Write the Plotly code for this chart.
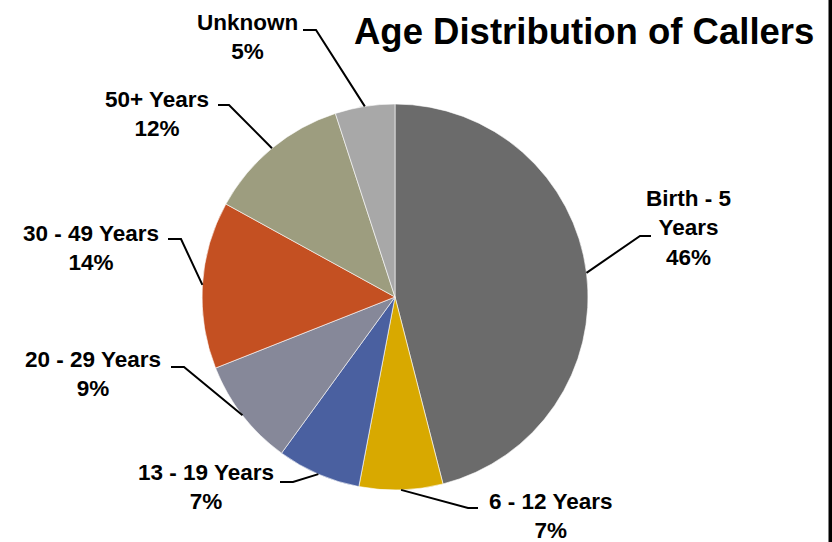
import math
import plotly.graph_objects as go

# ---- data ----
categories = ["Birth - 5 Years", "6 - 12 Years", "13 - 19 Years", "20 - 29 Years",
              "30 - 49 Years", "50+ Years", "Unknown"]
label_text = ["Birth - 5<br>Years", "6 - 12 Years", "13 - 19 Years", "20 - 29 Years",
              "30 - 49 Years", "50+ Years", "Unknown"]
values = [46, 7, 7, 9, 14, 12, 5]
colors = ["#6b6b6b", "#d8a900", "#4a60a0", "#868899", "#c45022", "#9d9d7f", "#a8a8a8"]
title = "Age Distribution of Callers"

W, H = 832, 542
# pie placement (page pixels)
CX, CY, R = 395, 297, 193

def px(x):
    return x / W

def py(y):
    return 1 - y / H

# label layout (page pixel centres, text-end point, elbow point)
label_pos = [(688, 228), (550, 516), (206, 487), (93, 374), (91, 248), (157, 114), (247, 37)]
line_start = [(651, 236), (478, 508), (280, 482), (171, 367), (168, 239), (218, 105), (303, 30)]
line_elbow = [(640, 236), (468, 508), (293, 482), (184, 367), (181, 239), (229, 105), (316, 30)]

fig = go.Figure()
fig.add_trace(go.Pie(
    labels=categories, values=values, sort=False, direction="clockwise", rotation=0,
    marker=dict(colors=colors, line=dict(color="rgba(255,255,255,0.6)", width=1)),
    textinfo="none", hoverinfo="label+percent", showlegend=False,
    domain=dict(x=[px(CX - R), px(CX + R)], y=[py(CY + R), py(CY - R)]),
))

total = sum(values)
cum = 0
shapes = []
annotations = []
for i, v in enumerate(values):
    mid = (cum + v / 2) / total * 2 * math.pi
    cum += v
    ax_ = CX + R * math.sin(mid)
    ay_ = CY - R * math.cos(mid)
    sx, sy = line_start[i]
    ex, ey = line_elbow[i]
    path = f"M {px(sx)} {py(sy)} L {px(ex)} {py(ey)} L {px(ax_)} {py(ay_)}"
    shapes.append(dict(type="path", xref="paper", yref="paper", path=path,
                       line=dict(color="black", width=2)))
    lx, ly = label_pos[i]
    pct = round(v / total * 100)
    annotations.append(dict(
        x=px(lx), y=py(ly), xref="paper", yref="paper", xanchor="center", yanchor="middle",
        text=f"<b>{label_text[i]}<br>{pct}%</b>", showarrow=False, align="center",
        font=dict(family="Liberation Sans, Arial, sans-serif", size=22.5, color="black"),
    ))

annotations.append(dict(
    x=px(584), y=py(32), xref="paper", yref="paper", xanchor="center", yanchor="middle",
    text=f"<b>{title}</b>", showarrow=False,
    font=dict(family="Liberation Sans, Arial, sans-serif", size=36.5, color="black"),
))

# right-hand border bar
shapes.append(dict(type="rect", xref="paper", yref="paper", x0=px(828.5), x1=1,
                   y0=0, y1=1, fillcolor="black", line=dict(width=0), layer="above"))

fig.update_layout(
    width=W, height=H, margin=dict(l=0, r=0, t=0, b=0),
    paper_bgcolor="white", plot_bgcolor="white",
    shapes=shapes, annotations=annotations,
)

fig.write_html("out.html", config={"displayModeBar": False},
               post_script="document.body.style.margin='0';document.body.style.overflow='hidden';")
